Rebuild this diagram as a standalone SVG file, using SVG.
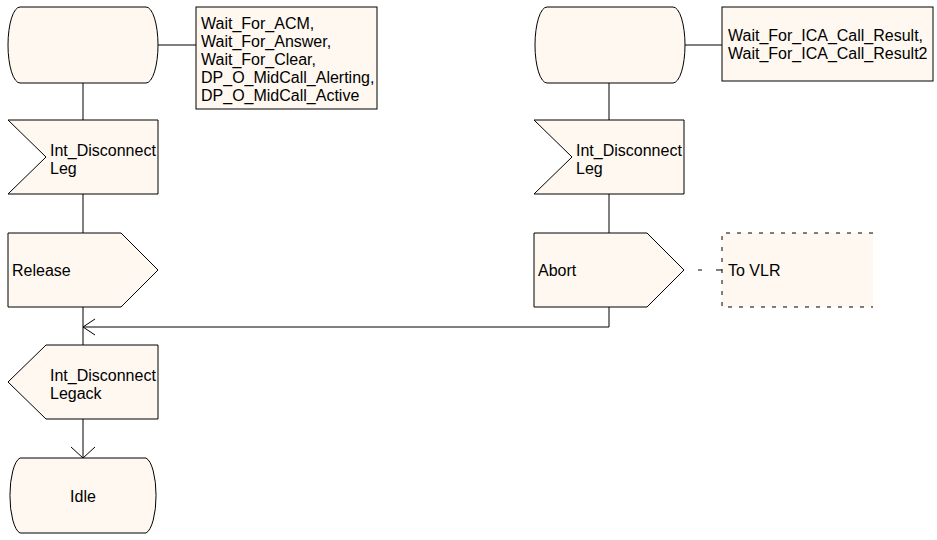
<svg xmlns="http://www.w3.org/2000/svg" width="937" height="540" viewBox="0 0 937 540">
<style>
.s{fill:#FFF8F0;stroke:#000;stroke-width:1}
.t{font-family:"Liberation Sans",Arial,sans-serif;font-size:16px;fill:#000}
.c{fill:none;stroke:#000;stroke-width:1}
.d{fill:none;stroke:#000;stroke-width:1;stroke-dasharray:4,7}
</style>
<rect width="937" height="540" fill="#fff"/>
<g id="conn">
<line class="c" x1="158" y1="45" x2="196" y2="45"/>
<line class="c" x1="685" y1="45" x2="722" y2="45"/>
<line class="c" x1="83" y1="83" x2="83" y2="120"/>
<line class="c" x1="83" y1="194" x2="83" y2="233"/>
<line class="c" x1="83" y1="307" x2="83" y2="345"/>
<line class="c" x1="83" y1="419" x2="83" y2="458"/>
<polyline class="c" points="71,447 83,458 95,447"/>
<line class="c" x1="609" y1="83" x2="609" y2="120"/>
<line class="c" x1="609" y1="194" x2="609" y2="233"/>
<polyline class="c" points="609,307 609,327 83,327"/>
<polyline class="c" points="95,319 83,327 95,335"/>
<line x1="698" y1="270" x2="702" y2="270" stroke="#000"/>
<line x1="716" y1="270" x2="722" y2="270" stroke="#000"/>
</g>
<g id="state1">
<path class="s" d="M20,7 L146,7 A12,38 0 0 1 146,83 L20,83 A12,38 0 0 1 20,7 Z"/>
</g>
<g id="comment1">
<rect class="s" x="196" y="7" width="181" height="102"/>
<text class="t" x="201" y="29">Wait_For_ACM,</text>
<text class="t" x="201" y="47">Wait_For_Answer,</text>
<text class="t" x="201" y="65">Wait_For_Clear,</text>
<text class="t" x="201" y="83">DP_O_MidCall_Alerting,</text>
<text class="t" x="201" y="101">DP_O_MidCall_Active</text>
</g>
<g id="state2">
<path class="s" d="M547,7 L673,7 A12,38 0 0 1 673,83 L547,83 A12,38 0 0 1 547,7 Z"/>
</g>
<g id="comment2">
<rect class="s" x="722" y="7" width="211" height="74"/>
<text class="t" x="728" y="41">Wait_For_ICA_Call_Result,</text>
<text class="t" x="728" y="59">Wait_For_ICA_Call_Result2</text>
</g>
<g id="input1">
<polygon class="s" points="8,120 158,120 158,194 8,194 46,157"/>
<text class="t" x="50" y="156">Int_Disconnect</text>
<text class="t" x="50" y="174">Leg</text>
</g>
<g id="input2">
<polygon class="s" points="534,120 684,120 684,194 534,194 572,157"/>
<text class="t" x="576" y="156">Int_Disconnect</text>
<text class="t" x="576" y="174">Leg</text>
</g>
<g id="release">
<polygon class="s" points="8,233 121,233 158,270 121,307 8,307"/>
<text class="t" x="12" y="276">Release</text>
</g>
<g id="abort">
<polygon class="s" points="534,233 647,233 684,270 647,307 534,307"/>
<text class="t" x="538" y="276">Abort</text>
</g>
<g id="tovlr">
<rect x="722" y="233" width="151" height="74" fill="#FFF8F0"/>
<path class="d" d="M873,233 H722 V307 H873"/>
<text class="t" x="728" y="276">To VLR</text>
</g>
<g id="output1">
<polygon class="s" points="8,382 46,345 158,345 158,419 46,419"/>
<text class="t" x="50" y="381">Int_Disconnect</text>
<text class="t" x="50" y="399">Legack</text>
</g>
<g id="idle">
<path class="s" d="M20,458 L146,458 A12,38 0 0 1 146,533 L20,533 A12,38 0 0 1 20,458 Z"/>
<text class="t" x="83" y="502" text-anchor="middle">Idle</text>
</g>
</svg>
